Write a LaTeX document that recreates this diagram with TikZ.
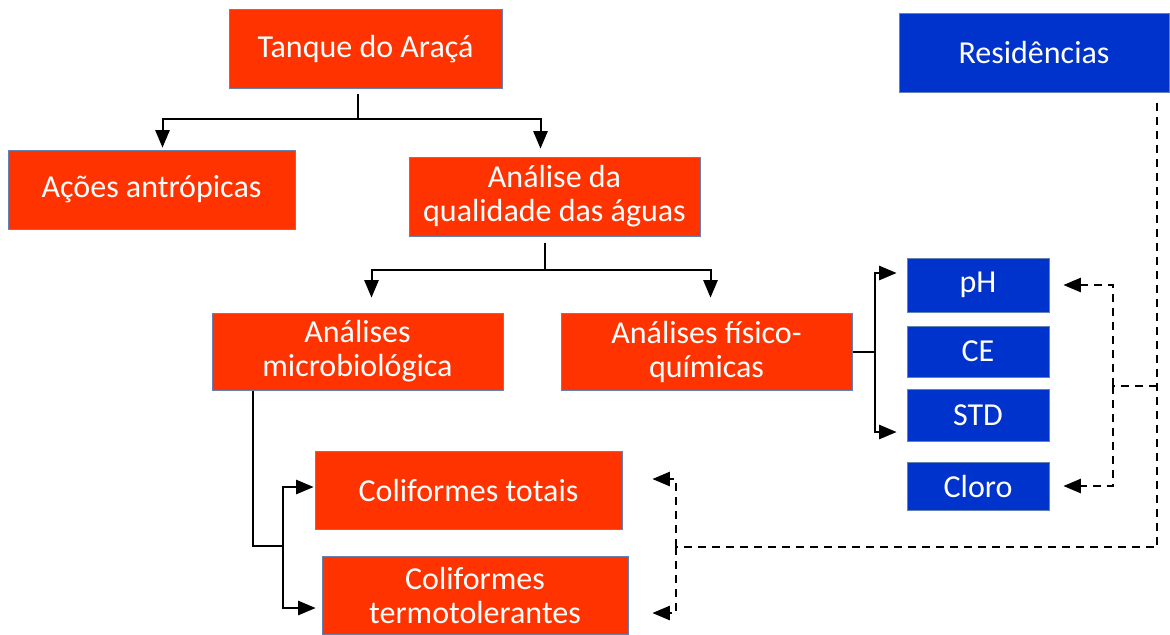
\documentclass[tikz,border=0pt]{standalone}
\usepackage{fontspec}
\setmainfont{Carlito}
\usepackage{tikz}
\usetikzlibrary{arrows}
\usetikzlibrary{calc}
\definecolor{boxred}{RGB}{255,51,0}
\definecolor{boxblue}{RGB}{0,51,204}
\definecolor{boxedge}{RGB}{100,130,180}

\begin{document}
\begin{tikzpicture}[x=0.5pt,y=-0.5pt,>=triangle 45,line width=1pt,
		rbox/.style={draw=boxedge,line width=0.5pt,fill=boxred,text=white,align=center,inner sep=0pt,font=\fontsize{16}{17}\selectfont},
		bbox/.style={rbox,fill=boxblue,minimum width=71pt},
		dsh/.style={dash pattern=on 4pt off 3pt}]
			\useasboundingbox (0,0) rectangle (1170,634);
			
			% red boxes
			
			\node[rbox,minimum width=136.5pt,minimum height=39.5pt] (Tq) at (365.5,49) {Tanque do Araçá};
			\node[rbox,minimum width=143.5pt,minimum height=39.5pt] (Ac) at (151.5,189.5) {Ações antrópicas};
			\node[rbox,minimum width=145.5pt,minimum height=39.5pt] (An) at (554.5,196.5) {Análise da\\qualidade das águas};
			\node[rbox,minimum width=145.5pt,minimum height=38.5pt] (Mic) at (357.5,351.5) {Análises\\microbiológica};
			\node[rbox,minimum width=145.5pt,minimum height=38.5pt] (Fis) at (706.5,351.5) {Análises físico-\\químicas};
			\node[rbox,minimum width=153.5pt,minimum height=39pt] (Ct) at (468.5,490) {Coliformes totais};
			\node[rbox,minimum width=153pt,minimum height=39pt] (Cterm) at (475,595) {Coliformes\\termotolerantes};
			
			% blue boxes
			
			\node[bbox,minimum width=135pt,minimum height=39.5pt] (Res) at (1034,52.5) {Residências};
			\node[bbox,minimum height=27pt] (pH) at (978,285) {pH};
			\node[bbox,minimum height=25.5pt] (CE) at (978,351.5) {CE};
			\node[bbox,minimum height=26pt] (STD) at (978,415) {STD};
			\node[bbox,minimum height=24pt] (Cl) at (978,486) {Cloro};
			
			% solid arrows
			
			\draw ([xshift=-4pt,yshift=-2.5pt]Tq.south) -- ++(0,25) coordinate (t1);
			\draw[->] (t1) -| ([xshift=5.5pt,yshift=1pt]Ac.north);
			\draw[->] (t1) -| ([xshift=-7pt,yshift=4pt]An.north);
			
			\draw ([xshift=-5pt,yshift=-3pt]An.south) -- ++(0,27) coordinate (a1);
			\draw[->] (a1) -| ([xshift=7pt,yshift=7.5pt]Mic.north);
			\draw[->] (a1) -| ([xshift=2pt,yshift=7.5pt]Fis.north);
			
			\draw (Fis.east) -- ++(22,0) coordinate (f1);
			\draw[->] (f1) |- ([xshift=-5pt,yshift=6pt]pH.west);
			\draw[->] (f1) |- ([xshift=-5pt,yshift=-8.5pt]STD.west);
			
			\coordinate (m1) at (283,546);
			\draw ([xshift=20.5pt]Mic.south west) |- (m1);
			\draw[->] (m1) |- ([xshift=-0.5pt,yshift=1.5pt]Ct.west);
			\draw[->] (m1) |- ([xshift=-3pt,yshift=-6.5pt]Cterm.west);
			
			% dashed arrows
			
			\coordinate (r1) at (1157,386);
			\coordinate (r2) at (1157,547);
			\coordinate (p1) at (1113,386);
			\coordinate (c1) at (676,547);
			\draw[dsh] ($(Res.south -| r2)+(0,10)$) -- (r2) -- (c1);
			\draw[dsh] (r1) -- (p1);
			\draw[dsh,->] (p1) |- ([xshift=7pt]pH.east);
			\draw[dsh,->] (p1) |- ([xshift=7pt]Cl.east);
			\draw[dsh,->] (c1) |- ([xshift=15pt,yshift=5.5pt]Ct.east);
			\draw[dsh,->] (c1) |- ([xshift=12pt,yshift=-9pt]Cterm.east);
		\end{tikzpicture}
\end{document}
